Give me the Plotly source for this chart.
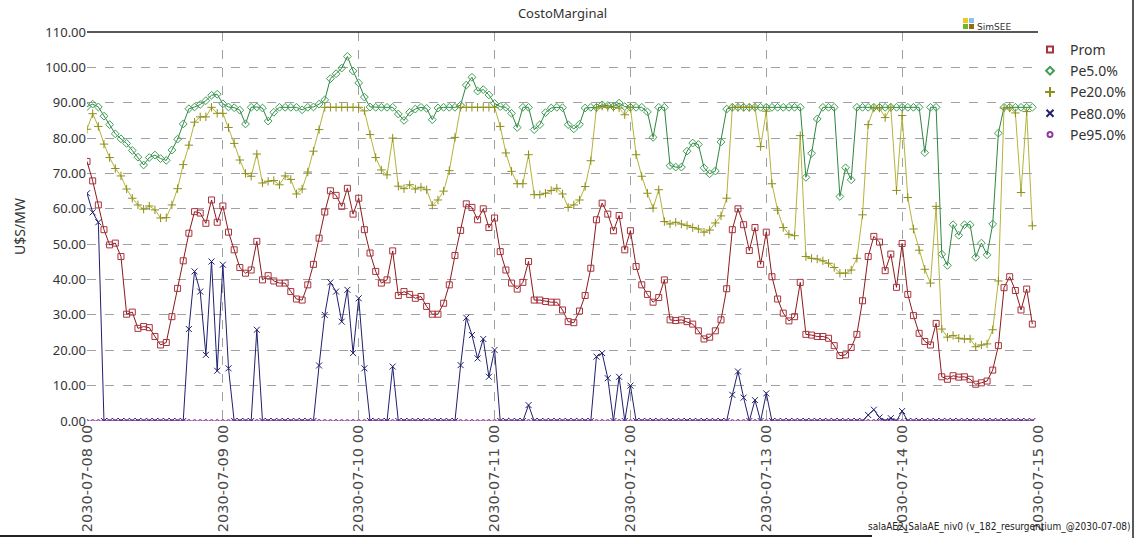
import pandas as pd
import plotly.graph_objects as go

# ---------------- data (hourly, 2030-07-08 00h .. 2030-07-14 23h) ----------------
start = "2030-07-08 00:00"
hours = pd.date_range(start, periods=168, freq="h")
day_ticks = pd.date_range("2030-07-08", periods=8, freq="D")

prom = [
    73.4, 67.9, 61.1, 54.1, 49.8, 50.3, 46.5, 30.2, 30.8, 26.2, 26.7, 26.4, 23.9, 21.5, 22.2, 29.5, 37.5, 45.3, 53.1, 59.2, 58.8, 55.9, 62.5, 56.2,
    60.8, 53.4, 48.4, 43.4, 41.8, 42.7, 50.8, 39.9, 41.1, 39.6, 39.0, 39.0, 36.6, 34.5, 34.2, 38.5, 44.3, 51.7, 59.1, 65.1, 63.8, 60.7, 65.8, 58.5,
    63.0, 54.1, 47.5, 42.3, 39.0, 39.9, 48.1, 35.5, 36.6, 35.8, 34.7, 35.2, 32.4, 30.2, 30.2, 33.3, 38.5, 46.8, 53.9, 61.4, 60.4, 56.9, 60.0, 54.7,
    57.4, 47.9, 42.7, 39.0, 37.3, 39.2, 45.1, 34.2, 34.2, 33.8, 33.6, 33.6, 31.4, 28.1, 27.8, 31.1, 35.5, 43.2, 56.9, 61.6, 58.5, 53.8, 58.1, 48.4,
    53.8, 43.7, 38.5, 35.8, 33.6, 34.9, 39.9, 28.6, 28.4, 28.6, 28.1, 27.4, 25.5, 23.2, 23.7, 25.5, 28.6, 37.4, 54.1, 60.0, 55.5, 48.2, 54.7, 44.3,
    53.4, 40.8, 34.5, 30.5, 28.3, 29.5, 39.2, 24.5, 24.3, 23.9, 23.9, 23.4, 21.3, 18.5, 18.7, 20.8, 24.5, 34.0, 46.5, 52.2, 50.6, 42.5, 47.2, 37.8,
    50.2, 35.8, 29.8, 24.8, 22.5, 21.5, 27.6, 12.5, 11.8, 12.8, 12.4, 12.5, 11.8, 10.4, 10.8, 11.3, 14.4, 21.3, 37.7, 40.8, 36.9, 31.4, 37.3, 27.4,
]

pe5 = [
    88.9, 89.6, 88.8, 86.2, 83.8, 81.2, 79.8, 78.5, 76.5, 74.6, 72.4, 74.5, 75.2, 74.2, 73.7, 76.6, 79.7, 84.0, 88.3, 88.8, 89.5, 90.6, 92.1, 92.4,
    89.7, 88.8, 88.6, 87.9, 84.0, 88.7, 88.8, 88.5, 84.8, 87.3, 88.7, 88.7, 88.7, 88.7, 88.0, 88.7, 88.8, 89.6, 90.8, 96.8, 98.2, 99.8, 103.1, 99.0,
    95.6, 91.6, 88.8, 88.7, 88.7, 88.7, 88.7, 86.8, 85.0, 87.3, 88.2, 88.7, 88.4, 85.2, 88.5, 88.7, 88.7, 88.7, 89.3, 95.0, 97.2, 93.3, 93.7, 92.2,
    89.8, 88.9, 88.7, 87.0, 83.0, 88.7, 88.7, 82.4, 83.8, 87.2, 88.5, 88.7, 88.6, 83.8, 82.6, 83.9, 88.5, 88.7, 88.7, 89.4, 89.2, 88.9, 89.9, 88.9,
    88.7, 88.7, 88.7, 87.4, 80.2, 88.7, 88.7, 72.2, 71.8, 71.8, 76.3, 78.6, 78.2, 71.6, 69.9, 70.7, 78.9, 88.2, 88.7, 88.7, 88.7, 88.7, 88.7, 88.7,
    88.7, 88.7, 88.7, 88.7, 88.7, 88.7, 88.7, 68.9, 75.7, 85.4, 88.7, 88.7, 88.7, 63.5, 71.6, 68.2, 88.7, 88.7, 88.7, 88.7, 88.7, 88.7, 88.7, 88.7,
    88.7, 88.7, 88.7, 88.7, 75.9, 88.7, 88.7, 47.2, 44.0, 55.5, 52.5, 55.5, 55.5, 46.3, 50.3, 47.0, 55.7, 81.4, 88.7, 88.7, 88.7, 88.7, 88.7, 88.7,
]

pe20 = [
    82.5, 86.9, 83.3, 78.3, 74.5, 71.4, 69.3, 65.6, 63.0, 61.1, 59.9, 60.8, 59.7, 57.4, 57.5, 61.1, 65.7, 72.5, 78.0, 84.5, 86.0, 86.0, 88.7, 87.0,
    87.0, 83.0, 78.5, 73.8, 70.0, 69.2, 75.5, 67.3, 67.8, 68.0, 66.8, 69.3, 68.3, 64.2, 65.6, 70.4, 76.3, 82.4, 88.7, 88.7, 88.7, 88.7, 88.7, 88.7,
    88.7, 87.7, 81.0, 74.5, 71.0, 69.6, 80.0, 66.4, 65.7, 66.8, 65.6, 66.1, 65.4, 61.0, 62.5, 65.0, 70.8, 80.2, 88.7, 88.7, 88.7, 88.7, 88.7, 88.7,
    88.7, 83.3, 75.8, 70.6, 67.1, 67.1, 75.3, 64.0, 64.0, 64.4, 65.2, 65.8, 64.2, 60.4, 61.1, 62.5, 66.3, 73.6, 88.5, 89.0, 88.7, 88.7, 88.5, 86.6,
    88.7, 75.3, 69.2, 64.4, 60.2, 65.4, 56.4, 55.7, 56.2, 55.7, 55.3, 54.7, 54.3, 53.4, 54.0, 56.0, 58.0, 63.0, 88.7, 88.7, 88.7, 88.7, 88.7, 77.6,
    87.6, 67.1, 59.6, 54.7, 52.8, 52.4, 80.7, 46.5, 46.0, 45.8, 45.3, 44.6, 43.4, 41.8, 41.8, 42.7, 46.0, 58.3, 83.8, 88.5, 88.5, 85.8, 88.7, 65.2,
    86.4, 63.2, 54.3, 48.3, 42.9, 39.0, 60.7, 26.0, 23.7, 24.2, 23.4, 23.2, 23.2, 21.0, 21.5, 21.8, 25.8, 39.6, 88.5, 88.5, 87.1, 64.6, 87.5, 55.2,
]

pe80 = [
    64.4, 59.0, 56.2, 0, 0, 0, 0, 0, 0, 0, 0, 0, 0, 0, 0, 0, 0, 0, 26.0, 42.3, 36.6, 18.7, 45.1, 14.2,
    44.2, 14.9, 0, 0, 0, 0, 25.8, 0, 0, 0, 0, 0, 0, 0, 0, 0, 0, 15.7, 30.0, 39.2, 36.6, 28.1, 37.1, 19.2,
    34.7, 14.9, 0, 0, 0, 0, 15.4, 0, 0, 0, 0, 0, 0, 0, 0, 0, 0, 0, 15.8, 29.2, 24.3, 17.7, 23.2, 12.5,
    20.1, 0, 0, 0, 0, 0, 4.5, 0, 0, 0, 0, 0, 0, 0, 0, 0, 0, 0, 18.2, 19.2, 12.1, 0, 12.5, 0,
    10.0, 0, 0, 0, 0, 0, 0, 0, 0, 0, 0, 0, 0, 0, 0, 0, 0, 0, 7.4, 14.0, 6.6, 0, 5.9, 0,
    7.8, 0, 0, 0, 0, 0, 0, 0, 0, 0, 0, 0, 0, 0, 0, 0, 0, 0, 1.7, 3.2, 1.0, 0, 0.8, 0,
    2.8, 0, 0, 0, 0, 0, 0, 0, 0, 0, 0, 0, 0, 0, 0, 0, 0, 0, 0, 0, 0, 0, 0, 0,
]

pe95 = [
    0, 0, 0, 0, 0, 0, 0, 0, 0, 0, 0, 0, 0, 0, 0, 0, 0, 0, 0, 0, 0, 0, 0, 0,
    0, 0, 0, 0, 0, 0, 0, 0, 0, 0, 0, 0, 0, 0, 0, 0, 0, 0, 0, 0, 0, 0, 0, 0,
    0, 0, 0, 0, 0, 0, 0, 0, 0, 0, 0, 0, 0, 0, 0, 0, 0, 0, 0, 0, 0, 0, 0, 0,
    0, 0, 0, 0, 0, 0, 0, 0, 0, 0, 0, 0, 0, 0, 0, 0, 0, 0, 0, 0, 0, 0, 0, 0,
    0, 0, 0, 0, 0, 0, 0, 0, 0, 0, 0, 0, 0, 0, 0, 0, 0, 0, 0, 0, 0, 0, 0, 0,
    0, 0, 0, 0, 0, 0, 0, 0, 0, 0, 0, 0, 0, 0, 0, 0, 0, 0, 0, 0, 0, 0, 0, 0,
    0, 0, 0, 0, 0, 0, 0, 0, 0, 0, 0, 0, 0, 0, 0, 0, 0, 0, 0, 0, 0, 0, 0, 0,
]

y_ticks = [0, 10, 20, 30, 40, 50, 60, 70, 80, 90, 100, 110]
title_text = "CostoMarginal"
y_title = "U$S/MW"
footer = "salaAE2_SalaAE_niv0 (v_182_resurgentium_@2030-07-08)"

# name, values, line colour, symbol, marker colour, size, legend symbol, legend size
series = [
    ("Prom", prom, "#8B1A1A", "square-open", "#A8323E", 6, "square-open", 6),
    ("Pe5.0%", pe5, "#2E8540", "diamond-open", "#3E9E55", 6, "diamond-open", 6),
    ("Pe20.0%", pe20, "#B4B43C", "cross-thin-open", "#8E8E1A", 6, "cross-thin-open", 7),
    ("Pe80.0%", pe80, "#20206E", "x-thin-open", "#20206E", 6, "x-thin-open", 7),
    ("Pe95.0%", pe95, "#8E3C9C", "circle-open", "#8E3C9C", 3, "circle-open", 5),
]

L, R, T, B = 87, 98, 32, 117
PW = 1136 - L - R
PH = 538 - T - B


def px_x(px):
    return (px - L) / PW


def px_y(py):
    return (538 - B - py) / PH


fig = go.Figure()
for name, vals, lcol, sym, mcol, msz, lsym, lsz in series:
    fig.add_trace(go.Scatter(
        x=hours, y=vals, name=name, mode="lines+markers", showlegend=False,
        line=dict(color=lcol, width=1),
        marker=dict(symbol=sym, size=msz, color=mcol, line=dict(width=1, color=mcol)),
    ))
# legend entries (marker only, as in the original)
for name, vals, lcol, sym, mcol, msz, lsym, lsz in series:
    fig.add_trace(go.Scatter(
        x=[None], y=[None], name=name, mode="markers",
        marker=dict(symbol=lsym, size=lsz, color=mcol, line=dict(width=2, color=mcol)),
    ))

grid = dict(showgrid=True, gridcolor="#A0A0A0", griddash="dash", gridwidth=1)

fig.update_layout(
    width=1136, height=538,
    margin=dict(l=L, r=R, t=T, b=B, autoexpand=False),
    paper_bgcolor="white", plot_bgcolor="white",
    title=dict(text=title_text, x=(L + 1038) / 2 / 1136, xanchor="center",
               y=0.975, yanchor="middle",
               font=dict(family="Noto Sans, Open Sans, sans-serif", size=13, color="#333333")),
    font=dict(family="Noto Sans, Open Sans, sans-serif", size=13, color="#333333"),
    legend=dict(xref="container", yref="container", x=1030 / 1136, y=1 - 34 / 538,
                xanchor="left", yanchor="top",
                bgcolor="rgba(0,0,0,0)", font=dict(size=14, color="#333333"),
                itemwidth=30, tracegroupgap=0),
    showlegend=True,
)

fig.update_xaxes(
    type="date",
    range=[day_ticks[0], day_ticks[-1]],
    tickvals=day_ticks, tickformat="%Y-%m-%d %H", tickangle=-90,
    tickfont=dict(family="DejaVu Sans, Verdana, sans-serif", size=14.5, color="#4a4a4a"),
    showline=False, zeroline=False, ticks="", **grid,
)
fig.update_yaxes(
    range=[0, 110], tickvals=y_ticks, tickformat=".2f",
    tickfont=dict(size=13, color="#333333"),
    title=dict(text=y_title, font=dict(size=14, color="#333333"), standoff=16),
    showline=False, zeroline=False, ticks="", **grid,
)

# top frame line of the plot area
fig.add_shape(type="line", xref="paper", yref="paper", x0=0, x1=1, y0=1, y1=1,
              line=dict(color="#222222", width=1.5))
# outer frame (right and bottom edges of the image)
fig.add_shape(type="line", xref="paper", yref="paper", x0=px_x(1133), x1=px_x(1133),
              y0=px_y(538), y1=px_y(0), line=dict(color="#222222", width=1.5))
fig.add_shape(type="line", xref="paper", yref="paper", x0=px_x(0), x1=px_x(872),
              y0=px_y(536), y1=px_y(536), line=dict(color="#222222", width=2))

# SimSEE logo
logo = [("#F2C81B", 963, 18), ("#86C5EE", 969, 18), ("#6CB82D", 963, 24), ("#9A6A16", 969, 24)]
for col, px, py in logo:
    fig.add_shape(type="rect", xref="paper", yref="paper",
                  x0=px_x(px), x1=px_x(px + 5), y0=px_y(py + 5), y1=px_y(py),
                  fillcolor=col, line=dict(width=0))
fig.add_annotation(text="SimSEE", xref="paper", yref="paper",
                   x=px_x(975), y=px_y(27), xanchor="left", yanchor="middle",
                   showarrow=False, font=dict(size=9, color="#333333", family="DejaVu Sans, sans-serif"))

fig.add_annotation(text=footer, xref="paper", yref="paper",
                   x=px_x(1133), y=px_y(527), xanchor="right", yanchor="middle",
                   showarrow=False,
                   font=dict(size=10, color="#222222",
                             family="DejaVu Sans Condensed, Liberation Sans Narrow, sans-serif"))

fig.write_html("out.html")
